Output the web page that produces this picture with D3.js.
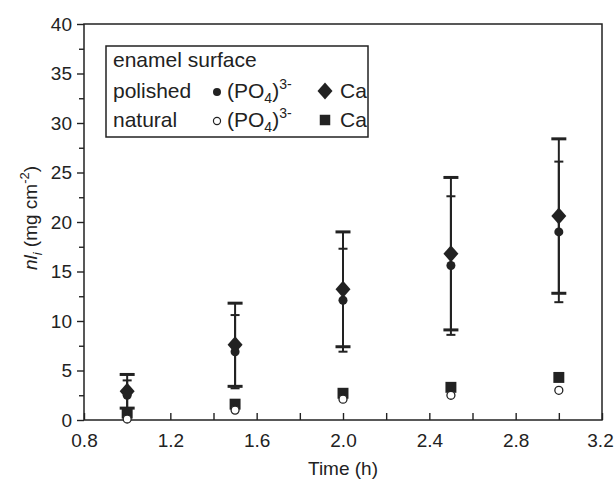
<!DOCTYPE html>
<html lang="en">
<head>
  <meta charset="UTF-8">
  <title>nl_i vs time</title>
  <script src="https://d3js.org/d3.v7.min.js"></script>
  <style>
    body { margin: 0; background: #fff; }
    text { font-family: "Liberation Sans", Arial, sans-serif; fill: #222; }
  </style>
</head>
<body>
  <div class="canvas"></div>
  <script>
    // data
    const times = [1.0, 1.5, 2.0, 2.5, 3.0];
    const polishedPO4 = [2.5, 6.9, 12.1, 15.6, 19.0];
    const polishedPO4Err = [1.5, 3.7, 5.2, 7.0, 7.1];
    const polishedCa = [2.9, 7.6, 13.2, 16.8, 20.6];
    const polishedCaErr = [1.7, 4.2, 5.8, 7.7, 7.8];
    const naturalPO4 = [0.1, 1.0, 2.1, 2.5, 3.0];
    const naturalCa = [0.7, 1.6, 2.7, 3.3, 4.3];

    const xTicks = [0.8, 1.2, 1.6, 2.0, 2.4, 2.8, 3.2];
    const yTicks = [0, 5, 10, 15, 20, 25, 30, 35, 40];

    const width = 614;
    const height = 487;
    const [mt, mr, mb, ml] = [24, 12, 66, 84];
    const gw = width - ml - mr;
    const gh = height - mt - mb - 1;

    const ink = '#222';
    const fs = '19px';

    const svg = d3.select('.canvas')
      .append('svg')
      .attr('width', width)
      .attr('height', height);

    const g = svg.append('g').attr('transform', `translate(${ml},${mt})`);

    const x = d3.scaleLinear().domain([0.8, 3.2]).range([0, gw]);
    const y = d3.scaleLinear().domain([0, 40]).range([gh, 0]);

    // axes
    const xAxis = g.append('g')
      .attr('transform', `translate(0,${gh})`)
      .call(d3.axisBottom(x).tickValues(d3.range(0.8, 3.21, 0.2)).tickSize(-7)
        .tickFormat(d => xTicks.some(t => Math.abs(t - d) < 1e-6) ? d3.format('.1f')(d) : ''));
    xAxis.selectAll('text').attr('y', 14).attr('dy', '0.71em')
      .attr('dx', d => d > 3.1 ? -2 : 0);

    const yAxis = g.append('g')
      .call(d3.axisLeft(y).tickValues(d3.range(0, 40.1, 2.5)).tickSize(7)
        .tickFormat(d => yTicks.includes(d) ? d : ''));
    yAxis.selectAll('.tick line').attr('x2', d => yTicks.includes(d) ? -7 : -5);
    yAxis.selectAll('text').attr('x', -12);

    [xAxis, yAxis].forEach(a => {
      a.select('.domain').remove();
      a.selectAll('line').attr('stroke', ink).attr('stroke-width', 1.4);
      a.selectAll('text').style('font-size', fs).attr('fill', ink);
    });

    // frame
    g.append('rect')
      .attr('width', gw).attr('height', gh)
      .attr('fill', 'none').attr('stroke', ink).attr('stroke-width', 1.5);

    // axis titles
    svg.append('text')
      .attr('x', ml + gw / 2).attr('y', 475)
      .attr('text-anchor', 'middle')
      .style('font-size', fs)
      .text('Time (h)');

    const yl = svg.append('text')
      .attr('transform', `translate(37,${mt + gh / 2 - 4}) rotate(-90)`)
      .attr('text-anchor', 'middle')
      .style('font-size', fs);
    yl.append('tspan').style('font-style', 'italic').text('nl');
    yl.append('tspan').style('font-style', 'italic').style('font-size', '13px').attr('dy', 5).text('i');
    yl.append('tspan').attr('dy', -5).text(' (mg cm');
    yl.append('tspan').style('font-size', '13px').attr('dy', -8).text('-2');
    yl.append('tspan').attr('dy', 8).text(')');

    // error bars
    function errBars(vals, errs, capW, capT) {
      const d = times.map((t, i) => ({ t, v: vals[i], e: errs[i] }));
      const eg = g.append('g');
      eg.selectAll('.stem').data(d).enter().append('line')
        .attr('x1', p => x(p.t)).attr('x2', p => x(p.t))
        .attr('y1', p => y(p.v + p.e)).attr('y2', p => y(p.v - p.e))
        .attr('stroke', ink).attr('stroke-width', 2);
      [1, -1].forEach(s => {
        eg.selectAll('.cap' + s).data(d).enter().append('line')
          .attr('x1', p => x(p.t) - capW / 2).attr('x2', p => x(p.t) + capW / 2)
          .attr('y1', p => y(p.v + s * p.e))
          .attr('y2', p => y(p.v + s * p.e))
          .attr('stroke', ink).attr('stroke-width', capT);
      });
    }
    errBars(polishedCa, polishedCaErr, 15, 3);
    errBars(polishedPO4, polishedPO4Err, 9, 2);

    const sym = (type, size) => d3.symbol().type(type).size(size)();
    const diamondPath = 'M0,-8.5L7.5,0L0,8.5L-7.5,0Z';

    function points(vals, path, fill, stroke, sw) {
      g.append('g').selectAll('path').data(times.map((t, i) => ({ t, v: vals[i] })))
        .enter().append('path')
        .attr('transform', p => `translate(${x(p.t)},${y(p.v)})`)
        .attr('d', path)
        .attr('fill', fill).attr('stroke', stroke).attr('stroke-width', sw);
    }
    points(polishedPO4, sym(d3.symbolCircle, 64), ink, 'none', 0);
    points(polishedCa, diamondPath, ink, 'none', 0);
    points(naturalCa, sym(d3.symbolSquare, 120), ink, 'none', 0);
    points(naturalPO4, sym(d3.symbolCircle, 50), '#fff', ink, 1.3);

    // legend
    const lfs = '21px';
    const lg = svg.append('g');
    lg.append('rect')
      .attr('x', 106).attr('y', 46).attr('width', 262).attr('height', 91)
      .attr('fill', '#fff').attr('stroke', ink).attr('stroke-width', 1.5);
    lg.append('text').attr('x', 113).attr('y', 67).style('font-size', lfs).text('enamel surface');

    const rows = [
      { label: 'polished', y: 98, circ: sym(d3.symbolCircle, 50), cf: ink, cs: 'none', ca: diamondPath },
      { label: 'natural', y: 127, circ: sym(d3.symbolCircle, 40), cf: '#fff', cs: ink, ca: sym(d3.symbolSquare, 110) }
    ];
    rows.forEach(r => {
      lg.append('text').attr('x', 113).attr('y', r.y).style('font-size', lfs).text(r.label);
      lg.append('path').attr('d', r.circ)
        .attr('transform', `translate(217,${r.y - 6})`)
        .attr('fill', r.cf).attr('stroke', r.cs).attr('stroke-width', 1.2);
      const t = lg.append('text').attr('x', 227).attr('y', r.y).style('font-size', lfs);
      t.append('tspan').text('(PO');
      t.append('tspan').style('font-size', '14px').attr('dy', 5).text('4');
      t.append('tspan').attr('dy', -5).text(')');
      t.append('tspan').style('font-size', '14px').attr('dy', -9).text('3-');
      lg.append('path').attr('d', r.ca)
        .attr('transform', `translate(325,${r.y - 7})`)
        .attr('fill', ink);
      lg.append('text').attr('x', 340).attr('y', r.y).style('font-size', lfs).text('Ca');
    });
  </script>
</body>
</html>
